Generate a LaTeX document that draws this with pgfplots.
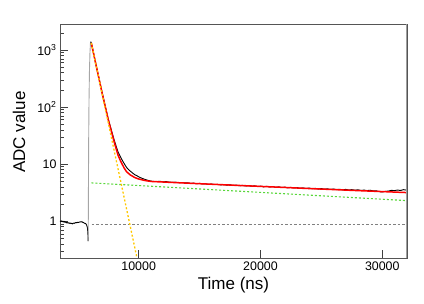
\documentclass[border=0pt]{standalone}
\usepackage{fontspec}
\setmainfont{Liberation Sans}
\usepackage{pgfplots}
\pgfplotsset{compat=1.18}
\definecolor{fitred}{RGB}{255,0,0}
\definecolor{fityel}{RGB}{255,200,0}
\definecolor{fitgrn}{RGB}{90,215,60}
\definecolor{framegray}{RGB}{85,85,85}
\begin{document}
\begin{tikzpicture}
\useasboundingbox (-60pt,-46pt) rectangle (364pt,258pt);
\begin{axis}[
  at={(0,0)}, anchor=south west,
  scale only axis, width=347pt, height=234pt,
  ymode=log, log basis y=10,
  xmin=3540, xmax=32030, ymin=0.227, ymax=2860,
  axis line style={framegray, line width=0.8pt},
  tick align=inside, xtick pos=bottom, ytick pos=left,
  xtick={10000,20000,30000},
  xticklabels={10000,20000,30000},
  ytick={1,10,100,1000},
  yticklabels={1,10,10\textsuperscript{2},10\textsuperscript{3}},
  minor ytick={0.3,0.4,0.5,0.6,0.7,0.8,0.9,2,3,4,5,6,7,8,9,20,30,40,50,60,70,80,90,200,300,400,500,600,700,800,900,2000},
  major tick length=8pt, minor tick length=4.5pt,
  every tick/.style={black!75, line width=0.6pt},
  ticklabel style={font=\fontsize{12.4}{14}\selectfont},
  scaled x ticks=false,
  xlabel={Time (ns)}, ylabel={ADC value},
  label style={font=\fontsize{17}{20}\selectfont},
  xlabel style={at={(axis description cs:0.5,-0.115)}, anchor=center},
  ylabel style={at={(axis description cs:-0.118,0.538)}, anchor=center},
  clip=true,
]
% data: pre-pulse
\addplot[black, line width=0.9pt] coordinates {
(3540,1.02)(3600,0.99)(3660,1.01)(3720,0.98)(3780,1.00)(3840,0.97)(3900,0.99)(3960,0.96)(4020,0.97)(4080,0.94)(4140,0.95)(4200,0.93)(4260,0.94)(4320,0.92)(4380,0.93)(4440,0.91)(4500,0.92)(4560,0.90)(4620,0.92)(4680,0.93)(4740,0.92)(4800,0.94)(4860,0.95)(4920,0.94)(4980,0.96)(5040,0.95)(5100,0.96)(5160,0.97)(5220,0.98)(5280,0.97)(5340,0.98)(5400,0.96)(5460,0.95)(5520,0.93)(5580,0.92)(5640,0.91)(5700,0.88)(5760,0.82)(5800,0.75)(5830,0.62)(5855,0.45)
};
% rise
\addplot[gray!70, line width=0.9pt] coordinates {
(5855,0.45)(5870,2)(5890,20)(5920,120)(5960,450)(6000,900)(6040,1300)(6060,1400)
};
% data: decay and tail
\addplot[black, line width=0.9pt] coordinates {
(6060,1400)(6110,1330)(6200,1100)(6500,545)(7000,180)(7500,62)(8000,26)(8300,16.5)(8500,13.5)(8700,11.2)(9000,8.8)(9200,7.9)(9500,7.0)(9700,6.5)(9850,6.3)(10000,6.0)(10250,5.68)(10500,5.42)(10750,5.22)
(11000,5.05)(11250,4.98)(11500,4.96)(11750,5.02)(12000,4.90)(12250,4.95)(12500,4.86)(12750,4.80)(13000,4.84)(13250,4.74)(13500,4.77)(13750,4.70)(14000,4.72)(14250,4.62)(14500,4.65)(14750,4.55)(15000,4.60)(15250,4.50)(15500,4.52)(15750,4.44)(16000,4.48)(16250,4.40)(16500,4.42)(16750,4.33)(17000,4.38)(17250,4.28)(17500,4.36)(17750,4.22)(18000,4.30)(18250,4.18)(18500,4.26)(18750,4.15)(19000,4.20)(19250,4.10)(19500,4.18)(19750,4.06)(20000,4.12)(20250,4.00)(20500,4.10)(20750,3.98)(21000,4.05)(21250,3.93)(21500,4.00)(21750,3.90)(22000,3.96)(22250,3.85)(22500,3.92)(22750,3.82)(23000,3.88)(23250,3.78)(23500,3.84)(23750,3.74)(24000,3.82)(24250,3.70)(24500,3.78)(24750,3.66)(25000,3.74)(25250,3.64)(25500,3.70)(25750,3.60)(26000,3.68)(26250,3.57)(26500,3.64)(26750,3.54)(27000,3.62)(27250,3.52)(27500,3.58)(27750,3.50)(28000,3.56)(28250,3.46)(28500,3.52)(28750,3.45)(29000,3.50)(29250,3.40)(29500,3.42)(29750,3.30)(30000,3.25)(30250,3.34)(30500,3.38)(30750,3.48)(31000,3.44)(31250,3.52)(31500,3.46)(31750,3.58)(32000,3.50)
};
% total fit
\addplot[fitred, line width=1.5pt] coordinates {
(6110,1330)(6500,545)(7000,175)(7500,60)(8000,24)(8300,14.5)(8500,11.5)(8800,8.6)(9000,7.4)(9300,6.5)(9700,5.8)(10000,5.5)(10500,5.18)(11000,4.98)(12000,4.87)(14000,4.65)(16000,4.45)(18000,4.26)(20000,4.08)(22000,3.91)(24000,3.74)(26000,3.59)(28000,3.44)(30000,3.31)(32000,3.18)
};
% slow component
\addplot[fitgrn, line width=1.1pt, dash pattern=on 2pt off 2pt] coordinates {
(6110,4.7)(32000,2.30)
};
% baseline
\addplot[gray, line width=0.8pt, dash pattern=on 2.5pt off 2pt] coordinates {
(6140,0.875)(32000,0.875)
};
% fast component
\addplot[fityel, line width=1.3pt, dash pattern=on 2pt off 2pt] coordinates {
(6110,1330)(9860,0.227)
};
\draw[gray!75, line width=1.6pt] (rel axis cs:1,0) -- (rel axis cs:1,1);
\end{axis}
\end{tikzpicture}
\end{document}
